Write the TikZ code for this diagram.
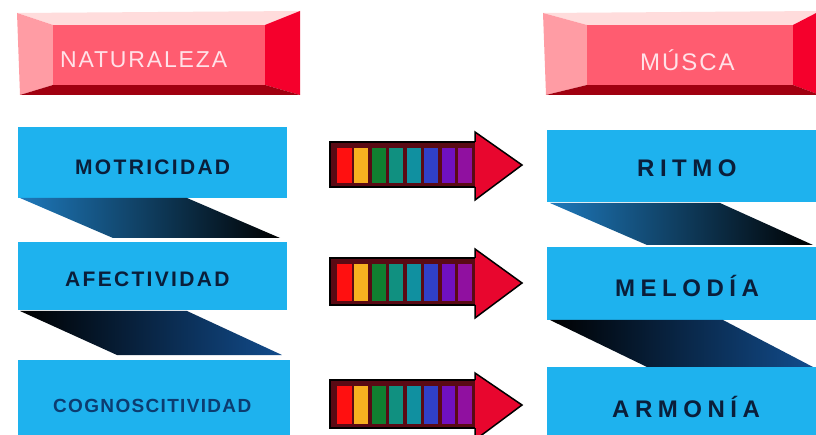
\documentclass[tikz,border=0pt]{standalone}
\usepackage{fontspec}
\setmainfont{Liberation Sans}
\newfontfamily\leftfont[LetterSpace=11]{Liberation Sans}
\newfontfamily\cogfont[LetterSpace=7]{Liberation Sans}
\newfontfamily\rightfont[LetterSpace=23]{Liberation Sans}
\newfontfamily\headfont[LetterSpace=8]{Liberation Sans}
\definecolor{bandblue}{HTML}{1EB2EE}
\definecolor{facemid}{HTML}{FF5C70}
\definecolor{faceleft}{HTML}{FF9CA4}
\definecolor{facetop}{HTML}{FFDCDC}
\definecolor{faceright}{HTML}{F5002C}
\definecolor{facebottom}{HTML}{A00010}
\definecolor{labeldark}{HTML}{0A1E3A}
\definecolor{labelcog}{HTML}{0C3C70}
\definecolor{headtext}{HTML}{FFE2E8}
\definecolor{shaftbg}{HTML}{5A0A14}
\definecolor{arrowhead}{HTML}{E8062E}
\definecolor{shadeblue}{HTML}{1E78BA}
\definecolor{shadeblue2}{HTML}{124C8C}
\definecolor{segred}{HTML}{FF1010}
\definecolor{segorange}{HTML}{F8B020}
\definecolor{seggreen}{HTML}{108030}
\definecolor{segteal}{HTML}{109080}
\definecolor{segteal2}{HTML}{1090A0}
\definecolor{segblue}{HTML}{3040C8}
\definecolor{segpurple}{HTML}{7010C0}
\definecolor{segmagenta}{HTML}{9010A0}
\tikzset{
  band/.style={fill=bandblue, draw=none, inner sep=0pt, minimum width=#1},
  face/.style={fill=facemid, draw=none, inner sep=0pt, minimum width=#1, minimum height=60pt},
  lbl/.style={inner sep=0pt, anchor=base west, text=labeldark},
}
\begin{document}
\begin{tikzpicture}[x=1pt,y=-1pt]
\clip (0,0) rectangle (816,435);
\fill[white] (0,0) rectangle (816,435);

% ---------- red header boxes ----------
% left
\fill[facetop] (17,13) -- (300,11) -- (265,25) -- (53,25) -- cycle;
\fill[faceleft] (17,13) -- (53,25) -- (53,85) -- (20,95) -- cycle;
\fill[faceright] (265,25) -- (300,11) -- (300,95) -- (265,85) -- cycle;
\fill[facebottom] (53,85) -- (265,85) -- (300,95) -- (20,95) -- cycle;
\node[face=212pt] (nat) at (159,55) {};
\node[inner sep=0pt, anchor=base west, text=headtext, font=\headfont\fontsize{23}{26}\selectfont] (natlbl) at (60,68) {NATURALEZA};
% right
\fill[facetop] (543,13) -- (820,11) -- (793,25) -- (587,25) -- cycle;
\fill[faceleft] (543,13) -- (587,25) -- (587,85) -- (546,95) -- cycle;
\fill[faceright] (793,25) -- (820,11) -- (820,95) -- (793,85) -- cycle;
\fill[facebottom] (587,85) -- (793,85) -- (820,95) -- (546,95) -- cycle;
\node[face=206pt] (mus) at (690,55) {};
\node[inner sep=0pt, anchor=base west, text=headtext, font=\headfont\fontsize{24}{27}\selectfont] (muslbl) at (640,71) {MÚSCA};

% ---------- left column ----------
\node[band=269pt, minimum height=71pt] (l1) at (152.5,162.5) {};
\shade[left color=shadeblue, right color=black] (20,198) -- (187,198) -- (280,238) -- (113,238) -- cycle;
\node[band=269pt, minimum height=68pt] (l2) at (152.5,276) {};
\shade[left color=black, right color=shadeblue2] (20,311) -- (187,311) -- (282,355) -- (117,355) -- cycle;
\node[band=272pt, minimum height=76pt] (l3) at (154,398) {};

\node[lbl, font=\leftfont\bfseries\fontsize{21}{24}\selectfont] (mot) at (75,175) {MOTRICIDAD};
\node[lbl, font=\leftfont\bfseries\fontsize{21}{24}\selectfont] (afe) at (65,287) {AFECTIVIDAD};
\node[lbl, text=labelcog, font=\cogfont\bfseries\fontsize{19}{22}\selectfont] (cog) at (53,412) {COGNOSCITIVIDAD};

% ---------- right column ----------
\node[band=272pt, minimum height=72pt] (r1) at (683,166) {};
\shade[left color=shadeblue, right color=black] (550,203) -- (720,203) -- (813,245) -- (647,245) -- cycle;
\node[band=272pt, minimum height=73pt] (r2) at (683,283.5) {};
\shade[left color=black, right color=shadeblue2] (550,320) -- (723,320) -- (813,367) -- (647,367) -- cycle;
\node[band=272pt, minimum height=70pt] (r3) at (683,402) {};

\node[lbl, font=\rightfont\bfseries\fontsize{24}{27}\selectfont] (rit) at (637,177) {RITMO};
\node[lbl, font=\rightfont\bfseries\fontsize{24}{27}\selectfont] (mel) at (615,297) {MELODÍA};
\node[lbl, font=\rightfont\bfseries\fontsize{24}{27}\selectfont] (arm) at (612,417) {ARMONÍA};

% ---------- rainbow arrows ----------
\foreach \st/\sb/\ht/\hb/\ty in {142/187/132/200/165, 258/305/249/318/283, 380/428/373/440/405}{
  \draw[line width=1.5pt, fill=shaftbg] (330,\st) rectangle (476,\sb);
  \foreach \xa/\xb/\c in {337/352/segred, 354/368/segorange, 372/386/seggreen, 389/403/segteal, 407/421/segteal2, 424/438/segblue, 442/455/segpurple, 458/472/segmagenta}{
    \fill[\c] (\xa,{\st+6}) rectangle (\xb,{\sb-4});
  }
  \fill[arrowhead] (475,\ht) -- (522,\ty) -- (475,\hb) -- cycle;
  \draw[line width=1.5pt, line join=miter] (475,\st) -- (475,\ht) -- (522,\ty) -- (475,\hb) -- (475,\sb);
}
\end{tikzpicture}
\end{document}
